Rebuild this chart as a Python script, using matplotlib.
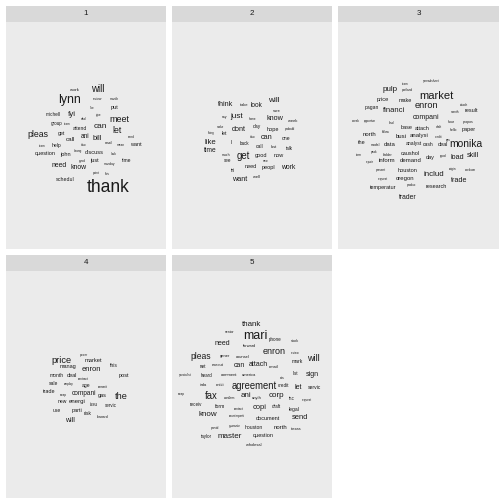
import matplotlib
matplotlib.use("Agg")
import matplotlib.pyplot as plt

plt.rcParams['font.family'] = ['Liberation Sans', 'DejaVu Sans']

W, H = 504, 504
panel_labels = ["1", "2", "3", "4", "5"]

# panel boxes in pixels: (left, right, strip top, panel top, panel bottom)
cols = [(5.5, 166), (172, 332), (338, 499)]
rows = [(5.5, 22, 249), (255, 271, 498)]

# (word, size, x, y), positions in image pixels
words_1 = [
    ("thank", 17.5, 107.7, 187.3), ("lynn", 12.2, 69.3, 100), ("will", 9.8, 97.7, 89.3),
    ("work", 4.2, 74, 90), ("review", 3.2, 97, 99.3), ("month", 3.2, 114.3, 99.3),
    ("like", 3, 91.7, 108.3), ("put", 5.5, 114.3, 108), ("michell", 4.7, 53.3, 114),
    ("fyi", 8, 72, 114.7), ("give", 3, 98.7, 114.7), ("deal", 3, 83.3, 119),
    ("meet", 9, 119.3, 119), ("group", 4.5, 56.7, 123.3), ("team", 3, 67.7, 123.7),
    ("can", 8.3, 100.7, 126), ("attend", 5, 80, 128.7), ("let", 8.8, 116.7, 130.7),
    ("get", 5.3, 61.7, 133.3), ("pleas", 8.7, 38.3, 134.3), ("ani", 6.5, 85.3, 136.7),
    ("send", 3.2, 131, 137.3), ("bill", 7.5, 97.3, 138), ("call", 6.3, 70.7, 139.7),
    ("email", 3.2, 108.3, 142.7), ("mean", 3.2, 120.7, 144.7), ("want", 5.5, 136, 145),
    ("also", 3, 83.3, 144.7), ("team", 3, 42, 146.3), ("help", 5, 57, 145),
    ("chang", 3, 77.7, 150.7), ("discuss", 5.6, 94, 152), ("question", 5.5, 45.3, 153.3),
    ("john", 5.5, 65, 154.3), ("look", 3.2, 113.3, 154.3), ("good", 3.2, 82, 160.7),
    ("just", 5.5, 94.3, 160.3), ("time", 5, 127, 161), ("monday", 3.2, 109.3, 163.7),
    ("need", 6.9, 59, 165.3), ("know", 6.9, 78.7, 167.7), ("point", 3, 96, 172.7),
    ("this", 3, 107.7, 173.7), ("schedul", 5.4, 65.3, 179.3),
]

words_2 = [
    ("will", 8.2, 273.7, 101), ("think", 7.3, 225.7, 104), ("take", 4, 243.7, 105),
    ("look", 6.5, 256.7, 105.7), ("sure", 4, 276.7, 111), ("say", 3.5, 224.7, 116.7),
    ("just", 8.1, 236.7, 116), ("home", 3, 252.3, 119.3), ("know", 7.2, 275, 118.7),
    ("week", 4, 293, 121), ("make", 3, 220, 127), ("day", 5, 257, 126.3),
    ("dont", 7.2, 238.3, 129.3), ("hope", 5.5, 273, 129.7), ("probabl", 3, 290, 129.3),
    ("thing", 3, 211, 132.7), ("let", 5, 224.7, 133.7), ("also", 3, 252.3, 136.7),
    ("can", 7.4, 267, 137.3), ("one", 5, 285.7, 138), ("like", 7.8, 210.7, 142.3),
    ("ll", 5, 231.3, 142), ("back", 4.5, 245, 143.3), ("call", 5, 260, 146),
    ("last", 4, 274.3, 147), ("talk", 4.5, 289.7, 148.7), ("time", 6.6, 210.7, 150.7),
    ("much", 3.5, 226.3, 155), ("get", 9.6, 243.3, 156.3), ("good", 5.5, 261, 155.3),
    ("now", 5.5, 279, 155.3), ("see", 4.5, 227.3, 161), ("new", 3, 265.3, 161.3),
    ("need", 5.5, 251, 166), ("peopl", 5.5, 268.7, 167.7), ("work", 6.8, 288, 167.3),
    ("tri", 5, 232.7, 170), ("well", 4, 256.3, 177), ("want", 7.3, 239.3, 179.3),
]

words_3 = [
    ("spreadsheet", 3, 431, 81.3), ("team", 3, 405, 84.3), ("pulp", 8, 389.7, 89.3),
    ("portland", 3, 407.7, 90.3), ("market", 11.3, 436.3, 95.7), ("price", 5.8, 383, 99.3),
    ("make", 5.5, 405, 100), ("attach", 3, 464.3, 104.7), ("enron", 9.1, 426.3, 105.3),
    ("pagan", 5, 371.7, 107.3), ("financi", 7.6, 393.7, 110.3), ("result", 5.5, 471, 111),
    ("month", 3, 455, 112.3), ("compani", 7, 425.7, 117.7), ("week", 3, 355, 121),
    ("opportun", 3, 370, 121), ("final", 3, 392.3, 123), ("hour", 3.5, 451.3, 122.3),
    ("propos", 3.5, 468.3, 121.7), ("base", 5.5, 406.3, 127.7), ("attach", 5.5, 422, 128),
    ("draft", 3, 439.3, 127), ("hello", 3.5, 453, 129.7), ("paper", 5.5, 468.3, 129),
    ("north", 6, 369.3, 134), ("follow", 3, 386, 132.3), ("busi", 6, 401, 136),
    ("analysi", 6, 418.7, 136), ("credit", 3, 439, 137), ("gas", 3, 448, 140.3),
    ("the", 5.5, 361.3, 142), ("model", 3.5, 375, 145), ("data", 6, 390, 144.3),
    ("analyst", 5, 413.7, 144), ("cash", 5, 428, 145), ("deal", 5.5, 443.3, 145),
    ("monika", 10.3, 465.7, 144), ("term", 3, 359.3, 155), ("peak", 3, 373.7, 151.7),
    ("bidder", 3.5, 387.7, 155.3), ("caushol", 5.5, 410.3, 153.3), ("day", 5.5, 429.7, 157),
    ("good", 3, 443, 155.7), ("load", 7.3, 457.7, 157.7), ("skill", 7.2, 473.3, 155.7),
    ("repair", 3, 370, 162), ("inform", 6, 387, 161), ("demand", 6, 410.3, 161),
    ("present", 3, 381, 169.7), ("houston", 5.5, 408, 170), ("origin", 3, 452.3, 169),
    ("welcom", 3, 469.7, 169.7), ("includ", 7.9, 434.3, 174.3), ("request", 3, 383, 178.7),
    ("oregon", 6, 405.3, 178.7), ("trade", 7.2, 459.3, 180.7), ("temperatur", 5.5, 383.3, 187.3),
    ("produc", 3, 411.7, 185.3), ("research", 5.5, 436.3, 186.3), ("trader", 6.8, 407.7, 197.7),
]

words_4 = [
    ("power", 3, 84, 354.7), ("price", 9.2, 61.7, 360.3), ("market", 5.8, 93.7, 361),
    ("manag", 5.5, 67.7, 367), ("enron", 7.6, 91, 369.3), ("this", 5, 114.3, 365.7),
    ("month", 5, 56.3, 376), ("deal", 5.5, 72, 376), ("post", 5.5, 123.7, 376),
    ("contract", 3, 83, 379.3), ("sale", 5, 54, 383.7), ("employ", 3, 68.7, 384.3),
    ("age", 5, 85.7, 386), ("commit", 3, 102.7, 387.3), ("trade", 5.5, 49, 392),
    ("swap", 3, 63.7, 394.7), ("compani", 6.5, 84.3, 394), ("gas", 5.5, 102.3, 396),
    ("the", 9.1, 121.3, 396.7), ("new", 5, 62, 401.3), ("energi", 6, 77.3, 402),
    ("issu", 4.5, 93.7, 405), ("servic", 4.5, 110.7, 406), ("use", 5, 56.7, 411),
    ("parti", 5.5, 77, 410.3), ("risk", 5, 87.7, 414), ("forward", 3.5, 102, 416.7),
    ("will", 7, 70, 420.7),
]

words_5 = [
    ("thank", 7.9, 251.7, 325), ("senior", 3.5, 229.3, 331.7), ("mari", 12.5, 255, 336),
    ("phone", 4.5, 275, 339.7), ("stock", 3.5, 295, 341), ("need", 7, 222.7, 343.7),
    ("forward", 4, 250, 346.3), ("enron", 9, 273.7, 351.7), ("review", 3, 294.7, 352.7),
    ("pleas", 8.5, 200.3, 356.7), ("gener", 4, 225.3, 356), ("counsel", 4, 242.7, 356.7),
    ("will", 9, 313.7, 358.3), ("mark", 5, 297.7, 361.7), ("net", 4.5, 203.3, 366.3),
    ("execut", 4, 217.7, 364.7), ("can", 7, 239.3, 365.7), ("attach", 7, 258, 364.7),
    ("email", 4, 274, 367), ("specialist", 3, 185, 375.3), ("heard", 4.5, 206.3, 376),
    ("comment", 4, 229, 374.7), ("america", 4, 248.7, 375.3), ("list", 4.5, 295.7, 373.3),
    ("sign", 7, 312.7, 374.3), ("ets", 3.5, 282.7, 377.7), ("isda", 4, 203.3, 385.3),
    ("entiti", 4, 219.7, 385.3), ("agreement", 9.5, 254.3, 386), ("credit", 4.5, 283, 385.3),
    ("let", 7, 298.7, 387.3), ("servic", 5, 314.3, 387.3), ("swap", 3, 181, 393.7),
    ("fax", 9.5, 211.3, 396), ("confirm", 3.5, 229.7, 398.3), ("ani", 8, 246.3, 395.7),
    ("anyth", 4, 256.7, 397.7), ("corp", 8, 276, 396), ("inc", 4.5, 291.7, 398.7),
    ("request", 3, 307.3, 399.7), ("receiv", 4.5, 196.3, 404.7), ("form", 5, 220.3, 406.3),
    ("contact", 3, 238.3, 409.3), ("copi", 7.5, 260, 407.7), ("draft", 4.5, 276, 407),
    ("legal", 5, 293.7, 410), ("know", 8, 208.3, 415), ("counterparti", 3, 236.7, 416.3),
    ("document", 5.5, 267.7, 418.7), ("send", 7.5, 300.3, 417.3), ("provid", 3, 215.3, 427.7),
    ("guarante", 3, 234.7, 426), ("houston", 5, 253.3, 428), ("north", 6, 281, 427.3),
    ("texas", 4, 296, 428.7), ("taylor", 4.5, 206, 437), ("master", 8, 229.3, 437),
    ("question", 5.5, 263.3, 436), ("wholesal", 4, 253.7, 445.3),
]

panels = [words_1, words_2, words_3, words_4, words_5]

fig = plt.figure(figsize=(W / 72, H / 72), dpi=72)
fig.patch.set_facecolor("white")

for i, (label, words) in enumerate(zip(panel_labels, panels)):
    x0, x1 = cols[i % 3]
    s0, p0, p1 = rows[i // 3]
    # strip
    sax = fig.add_axes([x0 / W, 1 - p0 / H, (x1 - x0) / W, (p0 - s0) / H])
    sax.set_facecolor("#D9D9D9")
    sax.set_xticks([]); sax.set_yticks([])
    for sp in sax.spines.values():
        sp.set_visible(False)
    sax.text(0.5, 0.5, label, ha="center", va="center", fontsize=8, color="#1A1A1A",
             transform=sax.transAxes)
    # panel
    ax = fig.add_axes([x0 / W, 1 - p1 / H, (x1 - x0) / W, (p1 - p0) / H])
    ax.set_facecolor("#EBEBEB")
    ax.set_xlim(x0, x1)
    ax.set_ylim(p1, p0)
    ax.set_xticks([]); ax.set_yticks([])
    for sp in ax.spines.values():
        sp.set_visible(False)
    for w, s, x, y in words:
        ax.text(x, y, w, fontsize=s, ha="center", va="center", color="#1A1A1A")

fig.savefig("out.png", dpi=72, facecolor="white")
